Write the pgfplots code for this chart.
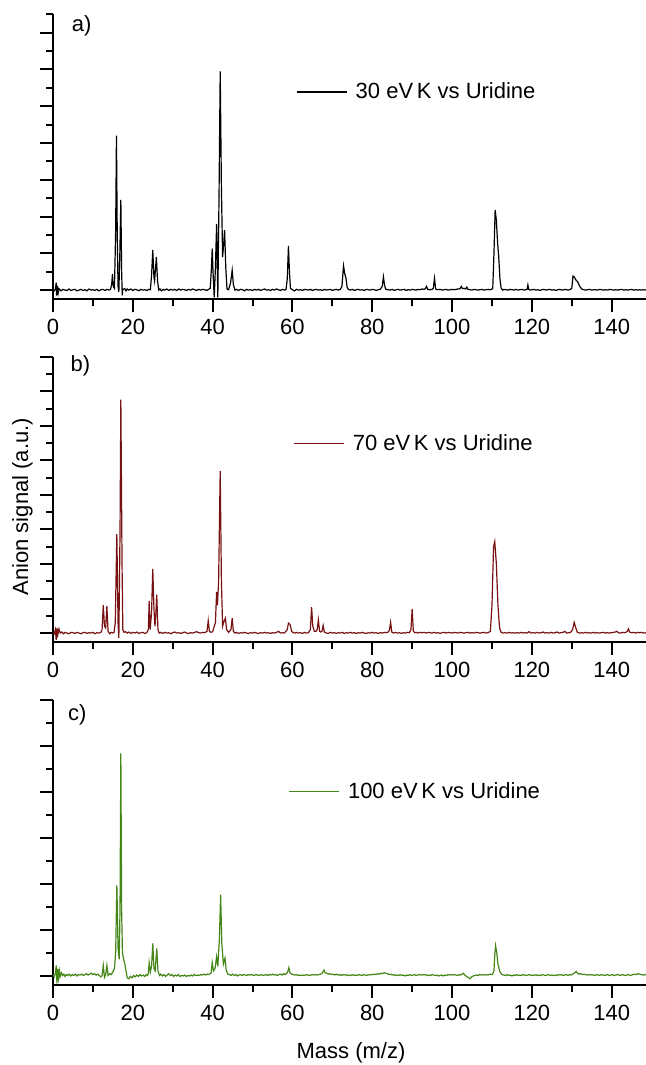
\documentclass[border=0pt]{standalone}
\usepackage{fontspec}
\setmainfont{Liberation Sans}
\usepackage{pgfplots}
\pgfplotsset{compat=1.18}

\definecolor{specred}{RGB}{120,18,18}
\definecolor{specgreen}{RGB}{68,134,24}

\pgfplotsset{
  spec/.style={
    scale only axis, width=296.5pt, height=142.5pt,
    xmin=0, xmax=148.6,
    axis x line*=bottom, axis y line*=left,
    axis line style={line width=1pt, -},
    tick align=outside, tick style={line width=1pt, black},
    major tick length=6.5pt, minor tick length=3.5pt,
    xtick={0,20,...,140}, minor xtick={10,30,...,130},
    yticklabels={},
    tick label style={font=\fontsize{11}{13}\selectfont},
    /pgf/number format/assume math mode=true,
    clip=false,
    legend cell align=left,
    legend style={draw=none, fill=none, font=\fontsize{11}{13}\selectfont,
      anchor=west, inner sep=0pt, nodes={inner sep=0pt}},
    legend image code/.code={\draw[#1] (0pt,0pt) -- (25pt,0pt); \path (29pt,0pt);},
  },
}
\tikzset{pnl/.style={anchor=west, inner sep=0pt, font=\fontsize{11}{13}\selectfont}}

\begin{document}
\begin{tikzpicture}
% a) 30 eV
\begin{axis}[spec, at={(26.5pt,382.85pt)}, anchor=south west,
  ymin=-0.25, ymax=7.5, ytick={0,...,7}, minor ytick={0.5,1.5,...,7.5},
  legend style={at={(axis description cs:0.41,0.727)}}]
\addplot[black, line width=0.6pt] coordinates {
(0,0.01)(0.3,-0.02)(0.6,0.03)(0.8,0.20)(0.9,-0.15)(1.1,0.12)(1.3,-0.08)(1.5,0.04)(2,-0.02)(2.5,0.02)(3,0.00)(3.5,-0.01)(4,0.03)(4.5,-0.01)(5,0.01)(5.5,0.02)(6,-0.02)(6.5,0.00)(7,0.02)(7.5,-0.01)(8,0.01)(8.5,-0.02)(9,0.03)(9.5,0.00)(10,0.01)(10.5,-0.01)(11,0.02)(11.5,-0.02)(12,0.01)(12.5,0.02)(13,-0.01)(13.5,0.02)(14,0.00)(14.4,0.02)
(14.7,0.15)(14.9,0.43)(15.1,0.10)(15.4,0.05)(15.7,1.6)(15.9,4.2)(16.1,1.5)(16.3,0.10)(16.5,-0.05)(16.75,1.0)(17.0,2.45)(17.2,0.5)(17.35,-0.14)(17.5,0.02)
(18,0.04)(18.3,-0.02)(18.6,0.03)(19,0.00)(19.5,0.03)(20,-0.01)(20.5,0.02)(21,0.01)(21.5,-0.02)(22,0.02)(22.5,0.00)(23,0.01)(23.5,-0.01)(24,0.02)(24.4,0.01)
(24.7,0.40)(25.0,1.09)(25.3,0.35)(25.45,0.25)(25.7,0.6)(25.9,0.90)(26.2,0.25)(26.5,0.00)
(26.8,0.03)(27.2,-0.02)(27.6,0.02)(28,0.00)(28.5,0.03)(29,-0.01)(29.5,0.02)(30,0.00)(30.5,0.02)(31,-0.01)(31.5,0.03)(32,0.00)(32.5,0.02)(33,0.01)(33.5,-0.01)(34,0.02)(34.5,0.00)(35,0.03)(35.5,0.01)(36,-0.01)(36.5,0.02)(37,0.00)(37.5,0.02)(38,0.01)(38.5,-0.01)(39,0.02)(39.4,0.05)
(39.7,0.6)(39.9,1.13)(40.1,0.5)(40.4,-0.2)(40.7,0.6)(41.0,1.8)(41.3,-0.2)(41.6,2.5)(41.9,5.95)(42.2,2.8)(42.5,0.9)(42.8,1.3)(43.0,1.63)(43.3,0.6)(43.6,0.03)(44.0,0.01)(44.5,0.2)(44.9,0.54)(45.2,0.15)(45.6,0.00)
(46,0.02)(46.5,-0.01)(47,0.02)(47.5,0.01)(48,-0.02)(48.5,0.02)(49,0.00)(49.5,0.01)(50,-0.01)(50.5,0.02)(51,0.00)(51.5,0.02)(52,-0.01)(52.5,0.01)(53,0.03)(53.5,0.00)(54,0.01)(54.5,-0.01)(55,0.02)(55.5,0.00)(56,0.03)(56.5,0.01)(57,-0.01)(57.5,0.02)(58,0.00)(58.4,0.02)
(58.7,0.3)(59.0,1.2)(59.25,0.5)(59.5,0.05)
(60,0.01)(60.5,-0.02)(61,0.02)(61.5,0.00)(62,0.01)(62.5,-0.01)(63,0.02)(63.5,0.01)(64,0.00)(64.5,0.02)(65,-0.01)(65.5,0.01)(66,0.02)(66.5,0.00)(67,0.01)(67.5,-0.01)(68,0.02)(68.5,0.00)(69,0.01)(69.5,0.02)(70,-0.01)(70.5,0.01)(71,0.02)(71.5,0.00)(72,0.02)
(72.4,0.1)(72.8,0.66)(73.1,0.45)(73.4,0.33)(73.7,0.08)(74,0.02)
(74.5,0.00)(75,0.02)(75.5,-0.01)(76,0.01)(76.5,0.02)(77,0.00)(77.5,0.01)(78,-0.01)(78.5,0.02)(79,0.01)(79.5,0.00)(80,0.02)(80.5,0.01)(81,-0.01)(81.5,0.01)(82,0.02)
(82.5,0.1)(82.8,0.36)(83.1,0.12)(83.4,0.02)
(84,0.01)(84.5,0.00)(85,0.02)(85.5,-0.01)(86,0.01)(86.5,0.02)(87,0.00)(87.5,0.01)(88,0.02)(88.5,-0.01)(89,0.01)(89.5,0.00)(90,0.02)(90.5,0.01)(91,0.00)(91.5,0.02)(92,0.01)(92.5,0.03)(93,0.02)
(93.3,0.04)(93.6,0.10)(93.9,0.02)(94.4,0.01)(95,0.02)(95.3,0.05)(95.6,0.32)(95.9,0.03)
(96.3,0.01)(97,0.02)(97.5,0.00)(98,0.01)(98.5,0.02)(99,0.00)(99.5,0.01)(100,0.02)(100.5,0.01)(101,0.02)(101.5,0.03)
(102,0.04)(102.3,0.10)(102.6,0.04)(103,0.05)(103.4,0.03)(103.7,0.08)(104,0.02)
(104.5,0.01)(105,0.00)(105.5,0.02)(106,0.01)(106.5,0.00)(107,0.01)(107.5,0.02)(108,0.00)(108.5,0.01)(109,0.02)(109.5,0.01)(109.9,0.02)
(110.2,0.05)(110.5,1.0)(110.8,2.18)(111.1,1.9)(111.4,1.3)(111.7,0.9)(112.0,0.3)(112.3,0.05)
(112.7,0.00)(113,0.02)(113.5,0.01)(114,0.00)(114.5,0.02)(115,0.01)(115.5,0.00)(116,0.02)(116.5,0.00)(117,0.01)(117.5,0.02)(118,0.00)(118.5,0.01)
(118.8,0.02)(119.0,0.14)(119.2,0.02)
(119.6,0.00)(120,0.01)(120.5,0.02)(121,0.00)(121.5,0.01)(122,-0.01)(122.5,0.01)(123,0.02)(123.5,0.00)(124,0.01)(124.5,0.02)(125,0.00)(125.5,0.01)(126,-0.01)(126.5,0.01)(127,0.02)(127.5,0.00)(128,0.01)(128.5,0.02)(129,0.00)(129.5,0.01)
(130,0.05)(130.3,0.38)(130.6,0.36)(131,0.28)(131.5,0.22)(132,0.10)(132.5,0.03)
(133,0.01)(133.5,0.00)(134,0.01)(134.5,0.02)(135,0.00)(135.5,0.01)(136,0.01)(136.5,0.00)(137,0.02)(137.5,0.01)(138,0.00)(138.5,0.01)(139,0.00)(139.5,0.02)(140,0.01)(140.5,0.00)(141,0.01)(141.5,0.00)(142,0.01)(142.5,0.02)(143,0.00)(143.5,0.01)(144,0.00)(144.5,0.01)(145,0.02)(145.5,0.00)(146,0.01)(146.5,0.00)(147,0.01)(147.5,0.00)(148,0.01)(148.6,0.00)
};
\addlegendentry{30 eV\,K vs Uridine}
\node[pnl] at (rel axis cs:0.031,0.96) {a)};
\end{axis}

% b) 70 eV
\begin{axis}[spec, at={(26.5pt,211.65pt)}, anchor=south west,
  ymin=-0.25, ymax=8, ytick={0,...,8}, minor ytick={0.5,1.5,...,7.5},
  legend style={at={(axis description cs:0.405,0.694)}}]
\addplot[specred, line width=0.6pt] coordinates {
(0,0.01)(0.3,-0.02)(0.6,0.10)(0.8,-0.20)(1.0,0.15)(1.2,-0.05)(1.5,0.12)(1.8,0.00)(2.2,0.03)(2.6,-0.02)(3,0.02)(3.5,0.00)(4,-0.02)(4.5,0.02)(5,0.01)(5.5,-0.01)(6,0.02)(6.5,0.00)(7,-0.02)(7.5,0.01)(8,0.02)(8.5,-0.01)(9,0.01)(9.5,0.00)(10,0.02)(10.5,-0.02)(11,0.01)(11.5,0.00)(12,0.02)
(12.3,0.1)(12.6,0.81)(12.9,0.2)(13.2,0.15)(13.5,0.78)(13.8,0.05)(14.2,-0.02)(14.6,0.02)(15,0.00)(15.3,0.02)
(15.6,0.3)(16.0,2.86)(16.3,0.3)(16.5,-0.14)(16.8,3.0)(17.0,6.76)(17.3,2.0)(17.5,0.10)
(17.8,0.02)(18.2,0.04)(18.6,0.00)(19,0.03)(19.5,-0.01)(20,0.02)(20.5,0.00)(21,0.03)(21.5,-0.01)(22,0.01)(22.5,0.02)(23,-0.01)(23.5,0.01)
(23.9,0.1)(24.1,0.93)(24.35,0.1)(24.7,0.6)(25.0,1.86)(25.3,0.7)(25.55,0.2)(25.8,0.6)(26.0,1.11)(26.3,0.1)
(26.6,0.00)(27,0.02)(27.5,-0.01)(28,0.02)(28.5,0.00)(29,0.01)(29.5,-0.02)(30,0.01)(30.5,0.03)(31,0.00)(31.5,0.01)(32,-0.01)(32.5,0.01)(33,0.03)(33.5,0.00)(34,-0.01)(34.5,0.01)(35,0.00)(35.5,0.02)(36,0.04)(36.5,0.01)(37,0.00)(37.5,0.02)(38,0.01)
(38.6,0.05)(38.9,0.36)(39.2,0.05)(39.6,0.02)(40,0.04)
(40.7,0.3)(41.0,1.19)(41.2,0.8)(41.5,1.5)(41.9,4.69)(42.2,1.5)(42.5,0.2)(42.9,0.35)(43.2,0.43)(43.5,0.1)(44,0.02)(44.6,0.1)(44.9,0.43)(45.2,0.05)
(45.6,0.00)(46,0.02)(46.5,-0.01)(47,0.01)(47.5,0.00)(48,0.02)(48.5,0.00)(49,-0.01)(49.5,0.01)(50,0.00)(50.5,0.02)(51,0.00)(51.5,-0.01)(52,0.01)(52.5,0.00)(53,0.02)(53.5,0.00)(54,0.01)(54.5,-0.01)(55,0.01)(55.5,0.00)(56,0.02)(56.5,0.05)(57,0.00)(57.5,0.01)(58,0.00)
(58.7,0.1)(59.0,0.29)(59.4,0.25)(59.8,0.05)
(60.2,0.01)(60.6,0.00)(61,0.02)(61.5,0.00)(62,0.01)(62.5,-0.01)(63,0.02)(63.5,0.00)(64,0.01)
(64.5,0.1)(64.8,0.75)(65.1,0.2)(65.5,0.05)(65.9,0.05)(66.2,0.1)(66.5,0.38)(66.8,0.05)(67.1,0.03)(67.4,0.05)(67.7,0.22)(68.0,0.03)
(68.5,0.00)(69,-0.01)(69.5,0.02)(70,0.00)(70.5,0.01)(71,-0.01)(71.5,0.01)(72,0.00)(72.5,0.02)(73,-0.01)(73.5,0.01)(74,0.00)(74.5,0.02)(75,0.00)(75.5,0.01)(76,-0.01)(76.5,0.01)(77,0.00)(77.5,0.02)(78,0.00)(78.5,-0.01)(79,0.01)(79.5,0.00)(80,0.02)(80.5,0.00)(81,0.01)(81.5,-0.01)(82,0.01)(82.5,0.00)(83,0.02)(83.5,0.01)(84,0.03)
(84.3,0.08)(84.6,0.31)(84.9,0.03)
(85.3,0.00)(85.8,0.02)(86.3,0.00)(86.8,0.01)(87.3,-0.01)(87.8,0.01)(88.3,0.00)(88.8,0.02)(89.3,0.01)
(89.7,0.1)(90.0,0.69)(90.3,0.05)
(90.7,0.01)(91,0.02)(91.5,0.00)(92,0.02)(92.5,0.01)(93,0.02)(93.5,0.00)(94,0.02)(94.5,0.01)(95,0.00)(95.5,0.02)(96,0.00)(96.5,0.01)(97,-0.01)(97.5,0.01)(98,0.02)(98.5,0.00)(99,0.02)(99.5,0.01)(100,0.00)(100.5,0.02)(101,0.01)(101.5,0.00)(102,0.02)(102.5,0.01)(103,0.00)(103.5,0.01)(104,0.02)(104.5,0.00)(105,0.01)(105.5,0.00)(106,0.02)(106.5,0.01)(107,0.00)(107.5,0.01)(108,0.02)(108.5,0.00)(109,0.01)
(109.6,0.05)(110.0,0.8)(110.4,2.5)(110.7,2.65)(111.1,2.0)(111.5,0.8)(111.9,0.15)(112.3,0.02)
(112.8,0.00)(113.3,0.01)(113.8,0.00)(114.3,0.02)(114.8,0.00)(115.3,0.01)(115.8,0.00)(116.3,0.01)(116.8,0.00)(117.3,0.02)(117.8,0.00)(118.3,0.01)(118.8,0.00)(119.3,0.04)(119.8,0.00)(120.3,0.01)(120.8,0.00)(121.3,0.02)(121.8,0.00)(122.3,0.01)(122.8,0.03)(123.3,0.00)(123.8,0.01)(124.3,0.00)(124.8,0.02)(125.3,0.00)(125.8,0.01)(126.3,0.03)(126.8,0.00)(127.3,0.01)(127.8,0.02)(128.3,0.05)(128.7,0.00)(129.2,0.01)(129.7,0.02)
(130.2,0.1)(130.6,0.31)(131.0,0.15)(131.4,0.02)
(131.9,0.00)(132.4,0.01)(132.9,0.00)(133.4,0.02)(133.9,0.00)(134.4,0.01)(134.9,0.00)(135.4,0.02)(135.9,0.00)(136.4,0.01)(136.9,0.00)(137.4,0.01)(137.9,0.02)(138.4,0.00)(138.9,0.01)(139.4,0.00)(139.9,0.01)(140.4,0.02)(140.9,0.03)(141.3,0.05)(141.7,0.01)(142.2,0.00)(142.7,0.02)(143.2,0.01)(143.7,0.03)
(144.0,0.06)(144.2,0.12)(144.5,0.03)(145,0.01)(145.5,0.02)(146,0.00)(146.5,0.02)(147,0.01)(147.5,0.02)(148,0.00)(148.6,0.01)
};
\addlegendentry{70 eV\,K vs Uridine}
\node[pnl] at (rel axis cs:0.029,0.967) {b)};
\end{axis}

% c) 100 eV
\begin{axis}[spec, at={(26.5pt,40.15pt)}, anchor=south west,
  ymin=-0.2, ymax=6, ytick={0,...,6}, minor ytick={0.5,1.5,...,5.5},
  legend style={at={(axis description cs:0.397,0.677)}}]
\addplot[specgreen, line width=0.6pt] coordinates {
(0,0.02)(0.3,-0.03)(0.6,0.05)(0.8,0.22)(1.0,-0.17)(1.2,0.15)(1.4,-0.05)(1.6,0.10)(1.8,-0.02)(2.1,0.06)(2.4,0.00)(2.7,0.03)(3,-0.02)(3.3,0.02)(3.6,0.00)(4,0.03)(4.4,-0.01)(4.8,0.02)(5.2,0.00)(5.6,0.03)(6,-0.01)(6.4,0.02)(6.8,0.01)(7.2,0.03)(7.6,0.00)(8,0.02)(8.4,0.04)(8.8,0.01)(9.2,0.03)(9.6,0.05)(10,0.02)(10.4,0.04)(10.8,0.01)(11.2,0.03)(11.6,0.00)(12,-0.03)
(12.3,0.0)(12.6,0.22)(12.9,-0.04)(13.2,0.02)(13.5,0.22)(13.8,0.0)(14.2,0.04)(14.6,0.02)(15,0.08)(15.4,0.15)(15.7,0.5)(16.0,1.96)(16.3,0.6)(16.6,0.35)(16.8,1.5)(17.0,4.83)(17.2,1.4)(17.4,0.5)(17.7,0.35)(18.0,0.25)(18.3,0.1)(18.6,-0.05)(19.0,-0.07)(19.4,-0.02)(19.8,-0.05)(20.2,0.00)(20.6,-0.03)(21,0.01)(21.4,-0.02)(21.8,0.02)(22.2,-0.01)(22.6,0.01)(23,-0.02)(23.4,0.02)(23.7,0.00)
(23.9,0.05)(24.1,0.28)(24.4,0.08)(24.7,0.2)(25.0,0.70)(25.3,0.15)(25.6,0.1)(26.0,0.59)(26.3,0.1)(26.7,0.0)
(27,0.03)(27.4,-0.01)(27.8,0.02)(28.2,-0.02)(28.6,0.01)(29,0.04)(29.4,0.00)(29.8,0.02)(30.2,-0.02)(30.6,0.01)(31,-0.01)(31.4,0.02)(31.8,-0.02)(32.2,0.00)(32.6,-0.01)(33,0.01)(33.4,-0.02)(33.8,0.00)(34.2,-0.01)(34.6,0.01)(35,-0.01)(35.4,0.02)(35.8,0.00)(36.2,0.01)(36.6,0.00)(37,0.02)(37.4,0.01)(37.8,0.03)(38.2,0.01)(38.6,0.03)(39,0.02)(39.3,0.04)
(39.6,0.05)(39.9,0.28)(40.2,0.1)(40.6,0.15)(41.0,0.41)(41.3,0.2)(41.7,0.8)(42.0,1.76)(42.3,0.7)(42.7,0.25)(43.1,0.38)(43.4,0.12)(43.8,0.03)
(44.2,0.02)(44.6,0.00)(45,0.03)(45.4,0.00)(45.8,0.02)(46.2,-0.01)(46.6,0.01)(47,0.02)(47.4,0.00)(47.8,0.02)(48.2,0.01)(48.6,0.00)(49,0.02)(49.4,0.01)(49.8,0.02)(50.2,0.00)(50.6,0.01)(51,0.02)(51.4,0.00)(51.8,0.01)(52.2,0.02)(52.6,0.00)(53,0.01)(53.4,0.02)(53.8,0.00)(54.2,0.02)(54.6,0.01)(55,0.03)(55.4,0.01)(55.8,0.02)(56.2,0.00)(56.6,0.02)(57,0.03)(57.4,0.01)(57.8,0.04)(58.2,0.02)(58.6,0.05)
(58.9,0.10)(59.1,0.17)(59.4,0.06)(59.8,0.03)
(60.2,0.02)(60.6,0.01)(61,0.02)(61.4,0.00)(61.8,0.01)(62.2,0.00)(62.6,0.01)(63,0.00)(63.4,0.02)(63.8,0.01)(64.2,0.00)(64.6,0.01)(65,0.02)(65.4,0.01)(65.8,0.02)(66.2,0.01)(66.6,0.02)(67,0.03)(67.4,0.04)
(67.7,0.09)(67.9,0.12)(68.2,0.06)(68.6,0.05)(69,0.03)(69.4,0.04)(69.8,0.02)(70.2,0.03)(70.6,0.01)(71,0.03)(71.4,0.01)(71.8,0.02)(72.2,0.00)(72.6,0.02)(73,0.01)(73.4,0.02)(73.8,0.00)(74.2,0.01)(74.6,0.00)(75,0.02)(75.4,0.00)(75.8,0.01)(76.2,0.00)(76.6,0.02)(77,0.01)(77.4,0.00)(77.8,0.02)(78.2,0.01)(78.6,0.00)(79,0.02)(79.4,0.01)(79.8,0.02)(80.2,0.02)(80.6,0.03)(81,0.02)(81.4,0.04)(81.8,0.03)(82.2,0.05)(82.6,0.04)(83,0.06)(83.4,0.05)(83.8,0.04)(84.2,0.02)(84.6,0.03)(85,0.01)(85.4,0.02)(85.8,0.00)(86.2,0.01)(86.6,0.00)(87,0.02)(87.4,0.00)(87.8,0.01)(88.2,-0.01)(88.6,0.01)(89,0.00)(89.4,0.02)(89.8,0.00)(90.2,0.01)(90.6,0.02)(91,0.00)(91.4,0.01)(91.8,0.02)(92.2,0.01)(92.6,0.02)(93,0.01)(93.4,0.02)(93.8,0.00)(94.2,0.01)(94.6,0.00)(95,0.02)(95.4,0.01)(95.8,0.00)(96.2,0.01)(96.6,-0.01)(97,0.00)(97.4,0.01)(97.8,-0.01)(98.2,0.01)(98.6,0.00)(99,0.02)(99.4,0.01)(99.8,0.02)(100.2,0.01)(100.6,0.02)(101,0.01)(101.4,0.00)(101.8,0.02)(102.2,0.01)(102.5,0.03)(102.8,0.05)(103.2,0.01)(103.6,-0.02)(104,-0.04)(104.5,-0.07)(104.9,-0.03)(105.3,-0.01)(105.7,0.00)(106.1,0.01)(106.5,0.00)(106.9,0.02)(107.3,0.01)(107.7,0.02)(108.1,0.01)(108.5,0.02)(108.9,0.01)(109.3,0.02)(109.7,0.03)(110.1,0.02)
(110.5,0.1)(110.7,0.45)(110.9,0.65)(111.2,0.5)(111.5,0.25)(112.0,0.08)(112.5,0.02)
(113,0.01)(113.4,0.00)(113.8,0.02)(114.2,0.00)(114.6,0.01)(115,-0.01)(115.4,0.01)(115.8,0.00)(116.2,0.02)(116.6,0.00)(117,0.01)(117.4,0.00)(117.8,0.02)(118.2,0.01)(118.6,0.00)(119,0.01)(119.4,0.02)(119.8,0.00)(120.2,0.01)(120.6,0.00)(121,0.02)(121.4,0.00)(121.8,0.01)(122.2,0.00)(122.6,0.02)(123,0.01)(123.4,0.00)(123.8,0.01)(124.2,0.02)(124.6,0.00)(125,0.01)(125.4,0.00)(125.8,0.01)(126.2,0.00)(126.6,0.02)(127,0.01)(127.4,0.02)(127.8,0.00)(128.2,0.01)(128.6,0.02)(129,0.00)(129.4,0.02)(129.8,0.01)(130.2,0.03)(130.6,0.05)
(130.9,0.07)(131.1,0.09)(131.4,0.05)(131.8,0.03)(132.2,0.04)(132.6,0.02)(133,0.03)(133.4,0.02)(133.8,0.01)(134.2,0.02)(134.6,0.01)(135,0.02)(135.4,0.01)(135.8,0.00)(136.2,0.02)(136.6,0.01)(137,0.00)(137.4,0.02)(137.8,0.01)(138.2,0.00)(138.6,0.01)(139,0.02)(139.4,0.00)(139.8,0.01)(140.2,0.02)(140.6,0.00)(141,0.01)(141.4,0.02)(141.8,0.01)(142.2,0.00)(142.6,0.02)(143,0.01)(143.4,0.00)(143.8,0.01)(144.2,0.02)(144.6,0.00)(145,0.01)(145.4,0.02)(145.8,0.03)(146.2,0.02)(146.6,0.04)(147,0.03)(147.4,0.02)(147.8,0.01)(148.2,0.02)(148.6,0.01)
};
\addlegendentry{100 eV\,K vs Uridine}
\node[pnl] at (rel axis cs:0.025,0.946) {c)};
\end{axis}

\node[rotate=90, font=\fontsize{11}{13}\selectfont] at (11.25pt,279.15pt) {Anion signal (a.u.)};
\node[font=\fontsize{11}{13}\selectfont] at (175.5pt,6pt) {Mass (m/z)};
\pgfresetboundingbox
\useasboundingbox (0,0) rectangle (323pt,532.5pt);
\end{tikzpicture}
\end{document}
